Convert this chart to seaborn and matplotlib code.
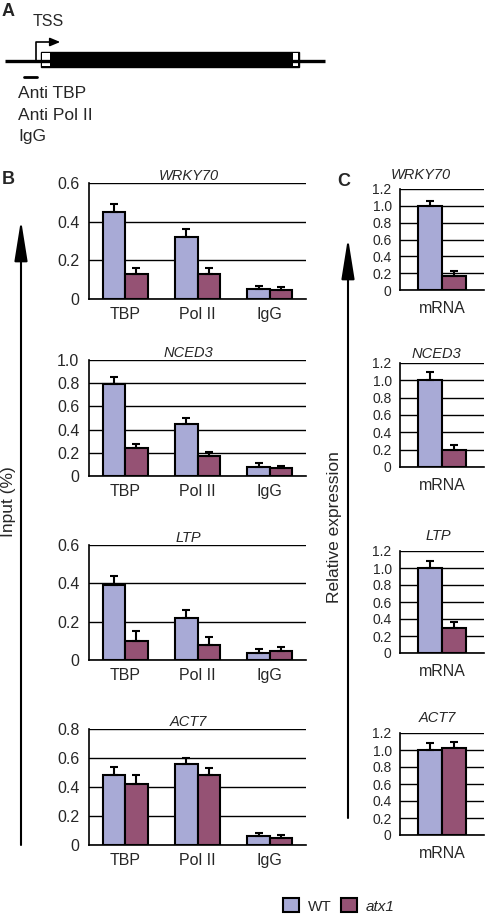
import numpy as np
import pandas as pd
import matplotlib
matplotlib.use('Agg')
import matplotlib.pyplot as plt
import seaborn as sns
from matplotlib.patches import Rectangle, Patch, FancyArrowPatch
from matplotlib.ticker import FixedLocator

# ---- data ----
genes = ['WRKY70', 'NCED3', 'LTP', 'ACT7']
chip_targets = ['TBP', 'Pol II', 'IgG']
genotypes = ['WT', 'atx1']

# ChIP, % input, order TBP / Pol II / IgG
wrky70_wt = [0.45, 0.32, 0.05]
wrky70_wt_err = [0.04, 0.04, 0.015]
wrky70_atx1 = [0.13, 0.13, 0.045]
wrky70_atx1_err = [0.03, 0.03, 0.015]

nced3_wt = [0.79, 0.45, 0.08]
nced3_wt_err = [0.06, 0.05, 0.03]
nced3_atx1 = [0.24, 0.17, 0.065]
nced3_atx1_err = [0.04, 0.04, 0.025]

ltp_wt = [0.39, 0.22, 0.035]
ltp_wt_err = [0.05, 0.04, 0.02]
ltp_atx1 = [0.10, 0.08, 0.045]
ltp_atx1_err = [0.05, 0.04, 0.025]

act7_wt = [0.48, 0.56, 0.06]
act7_wt_err = [0.06, 0.04, 0.02]
act7_atx1 = [0.42, 0.48, 0.05]
act7_atx1_err = [0.06, 0.05, 0.02]

chip_ymax = [0.6, 1.0, 0.6, 0.8]

# relative mRNA expression, order WRKY70 / NCED3 / LTP / ACT7
mrna_wt = [1.0, 1.0, 1.0, 1.0]
mrna_wt_err = [0.06, 0.10, 0.08, 0.08]
mrna_atx1 = [0.17, 0.20, 0.29, 1.02]
mrna_atx1_err = [0.05, 0.05, 0.07, 0.08]

colors = {'WT': '#a8aad6', 'atx1': '#955274'}

sns.set_style('white')
plt.rcParams['font.family'] = ['Liberation Sans', 'DejaVu Sans']

W, H = 498, 915
fig = plt.figure(figsize=(W / 100, H / 100), dpi=100)


def px_axes(left, right, top, bottom):
    return fig.add_axes([left / W, 1 - bottom / H, (right - left) / W, (bottom - top) / H])


def bar_panel(ax, cats, wt, wt_err, mut, mut_err, ymax, width, ylab_size, ypad, xpad):
    df = pd.DataFrame({
        'target': cats * 2,
        'genotype': ['WT'] * len(cats) + ['atx1'] * len(cats),
        'value': list(wt) + list(mut),
    })
    sns.barplot(data=df, x='target', y='value', hue='genotype', order=cats,
                hue_order=genotypes, palette=colors, width=width, errorbar=None,
                edgecolor='black', linewidth=1.5, saturation=1, legend=False, ax=ax)
    for cont, errs in zip(ax.containers, [wt_err, mut_err]):
        for bar, e in zip(cont, errs):
            ax.errorbar(bar.get_x() + bar.get_width() / 2, bar.get_height(),
                        yerr=[[0], [e]], fmt='none', ecolor='black',
                        elinewidth=1.5, capsize=2.6, capthick=1.5, zorder=5)
    ax.set_xlim(-0.5, len(cats) - 0.5)
    ax.set_ylim(0, ymax)
    ticks = np.round(np.arange(0, ymax + 1e-9, 0.2), 1)
    ax.set_yticks(ticks)
    ax.set_yticklabels(['0'] + ['%.1f' % t for t in ticks[1:]], fontsize=ylab_size)
    ax.yaxis.grid(True, color='black', lw=1.0)
    ax.set_axisbelow(True)
    ax.set_xlabel('')
    ax.set_ylabel('')
    for s in ['top', 'right']:
        ax.spines[s].set_visible(False)
    for s in ['left', 'bottom']:
        ax.spines[s].set_color('black')
        ax.spines[s].set_linewidth(1.2)
    ax.tick_params(axis='y', length=0, pad=ypad)
    ax.tick_params(axis='x', which='major', length=0, pad=xpad, labelsize=11.5)
    ax.xaxis.set_minor_locator(FixedLocator(np.arange(0.5, len(cats), 1.0)))
    ax.tick_params(axis='x', which='minor', length=3, width=1, color='black', direction='out')


# ---- panel B: ChIP ----
chip_data = [
    (wrky70_wt, wrky70_wt_err, wrky70_atx1, wrky70_atx1_err),
    (nced3_wt, nced3_wt_err, nced3_atx1, nced3_atx1_err),
    (ltp_wt, ltp_wt_err, ltp_atx1, ltp_atx1_err),
    (act7_wt, act7_wt_err, act7_atx1, act7_atx1_err),
]
b_rows = [(183, 299), (360, 476), (545, 660), (729, 845)]
for gene, (wt, we, mu, me), ymax, (top, bot) in zip(genes, chip_data, chip_ymax, b_rows):
    ax = px_axes(89, 306, top, bot)
    bar_panel(ax, chip_targets, wt, we, mu, me, ymax, 0.62, 11.5, 7, 6)
    ax.text(0.46, 1.0, gene, transform=ax.transAxes, ha='center', va='bottom',
            fontsize=10.5, style='italic')

# ---- panel C: mRNA ----
c_rows = [(189, 290), (363, 467), (551, 653), (733, 835)]
c_title_x = [0.25, 0.43, 0.46, 0.44]
c_title_gap = [7, 2, 8, 8]
for i, (gene, (top, bot)) in enumerate(zip(genes, c_rows)):
    ax = px_axes(400, 484, top, bot)
    bar_panel(ax, ['mRNA'], [mrna_wt[i]], [mrna_wt_err[i]], [mrna_atx1[i]],
              [mrna_atx1_err[i]], 1.2, 0.58, 10, 6, 8)
    ax.annotate(gene, xy=(c_title_x[i], 1.0), xycoords='axes fraction',
                xytext=(0, c_title_gap[i] * 0.72), textcoords='offset points',
                ha='center', va='bottom', fontsize=10.5, style='italic')

# ---- overlay: gene diagram, arrows, panel letters, legend ----
ov = fig.add_axes([0, 0, 1, 1], facecolor='none')
ov.set_xlim(0, W)
ov.set_ylim(H, 0)
ov.axis('off')

ov.plot([5, 325], [61, 61], color='black', lw=2.4, solid_capstyle='butt')
ov.add_patch(Rectangle((41, 52), 258, 15, facecolor='black', edgecolor='black', lw=1))
ov.add_patch(Rectangle((42, 53), 8, 13, facecolor='white', edgecolor='none'))
ov.add_patch(Rectangle((293, 53), 5, 13, facecolor='white', edgecolor='none'))
ov.plot([36, 36, 55], [61, 42, 42], color='black', lw=1.2)
ov.add_patch(FancyArrowPatch((52, 42), (63, 42), arrowstyle='-|>,head_length=0.6,head_width=0.25',
                             mutation_scale=10, color='black', lw=1.2))
ov.text(48, 22, 'TSS', ha='center', va='center', fontsize=11.5)
ov.plot([24, 37], [77, 77], color='black', lw=2)
ov.text(18, 94, 'Anti TBP', ha='left', va='center', fontsize=12.5)
ov.text(18, 116, 'Anti Pol II', ha='left', va='center', fontsize=12.5)
ov.text(18, 137, 'IgG', ha='left', va='center', fontsize=12.5)

ov.text(2, 12, 'A', fontsize=13, fontweight='bold', ha='left', va='center')
ov.text(2, 179, 'B', fontsize=13, fontweight='bold', ha='left', va='center')
ov.text(337, 181, 'C', fontsize=13, fontweight='bold', ha='left', va='center')

for x, y0, y1 in [(21, 845, 220), (348, 818, 238)]:
    ov.add_patch(FancyArrowPatch((x, y0), (x, y1),
                                 arrowstyle='-|>,head_length=2.5,head_width=0.4',
                                 mutation_scale=10, color='black', lw=1.5,
                                 shrinkA=0, shrinkB=0))
ov.text(9, 502, 'Input (%)', rotation=90, ha='center', va='center', fontsize=12.5)
ov.text(335, 527, 'Relative expression', rotation=90, ha='center', va='center', fontsize=12.5)

handles = [Patch(facecolor=colors[g], edgecolor='black', lw=1.5) for g in genotypes]
leg = fig.legend(handles, ['WT', 'atx1'], loc='center', ncol=2, frameon=False,
                 bbox_to_anchor=(339 / W, 1 - 906 / H), fontsize=11,
                 handlelength=1.0, handleheight=1.0, handletextpad=0.6, columnspacing=0.65)
leg.get_texts()[1].set_style('italic')

fig.savefig('out.png', dpi=100)
